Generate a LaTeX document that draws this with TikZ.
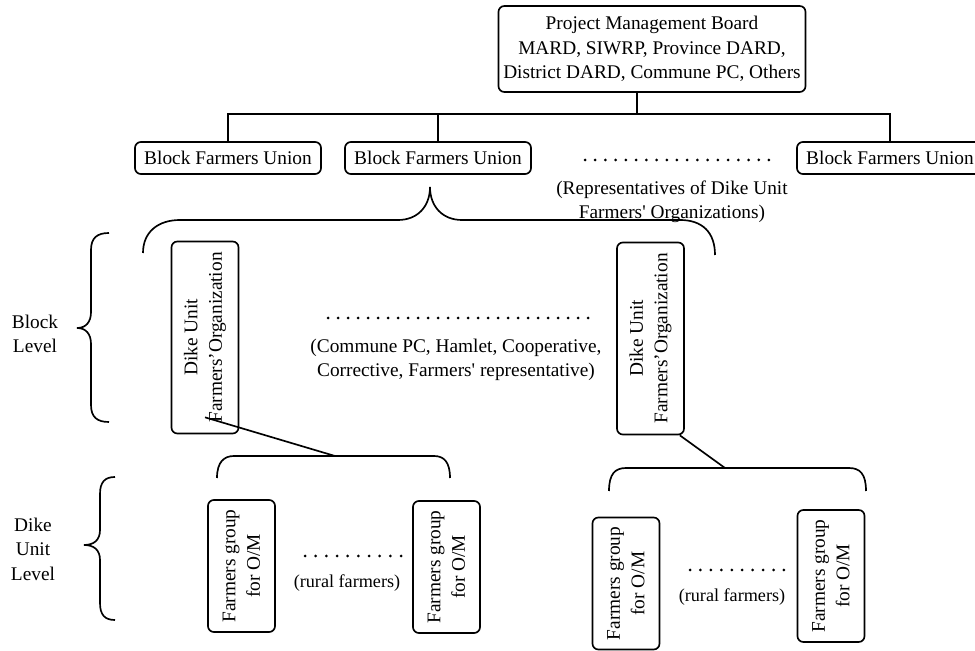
\documentclass[tikz,border=0pt]{standalone}
\usepackage{fontspec}
\setmainfont{Liberation Serif}
\usetikzlibrary{calc}

\begin{document}
\begin{tikzpicture}[x=0.6pt,y=-0.6pt,line width=1pt,
		font=\fontsize{11.6}{14.7}\selectfont,
		unitbox/.style={draw,rounded corners=3.5pt,align=center,inner sep=2pt},
		unionbox/.style={unitbox,minimum width=111.6pt,minimum height=19.2pt},
		orgbox/.style={unitbox,rotate=90,minimum width=115.2pt,minimum height=40.2pt},
		groupbox/.style={unitbox,rotate=90,minimum width=79.2pt,minimum height=40.2pt},
		small/.style={font=\fontsize{10.9}{13}\selectfont}]
		\useasboundingbox (0,0) rectangle (975,651);
%		\draw [color=gray!50] [step=50] (0,0) grid (975,651);
		\node [unitbox,minimum width=184.2pt,minimum height=51.6pt] (pmb) at (652,49) {Project Management Board\\MARD, SIWRP, Province DARD,\\District DARD, Commune PC, Others};
		\node [unionbox] (bfu1) at (228,158) {Block Farmers Union};
		\node [unionbox] (bfu2) at (438,158) {Block Farmers Union};
		\node [unionbox] (bfu4) at (890,158) {Block Farmers Union};
		\coordinate (bus) at (637,114);
		\draw (pmb.south -| bus) -- (bus);
		\draw (bfu1.north) -- (bfu1.north |- bus) -- (bfu4.north |- bus) -- (bfu4.north);
		\draw (bfu2.north) -- (bfu2.north |- bus);
		\foreach \i in {0,...,18} \fill (585+10.22*\i,160) circle [radius=0.9pt];
		\node [align=center] (reps) at (672,202) {(Representatives of Dike Unit\\Farmers\textquotesingle{} Organizations)};
		% brace under the second union
		\draw (143,253) .. controls (143,232) and (158,220) .. (180,220) -- (398,220) .. controls (418,220) and (430,206) .. (430,187) .. controls (430,206) and (442,220) .. (462,220) -- (680,220) .. controls (702,220) and (715,232) .. (715,255);
		\node [orgbox] (dufo1) at (205,337.5) {Dike Unit\\Farmers’Organization};
		\node [orgbox] (dufo2) at (650.5,338.5) {Dike Unit\\Farmers’Organization};
		\foreach \i in {0,...,26} \fill (328+10*\i,318) circle [radius=0.9pt];
		\node [align=center] (members) at (456,360) {(Commune PC, Hamlet, Cooperative,\\Corrective, Farmers\textquotesingle{} representative)};
		% levels
		\node [align=center] (blocklevel) at (35,334) {Block\\Level};
		\draw (109,233) .. controls (97,233) and (91,238) .. (91,250) -- (91,312) .. controls (91,322) and (86,328) .. (77,328) .. controls (86,328) and (91,334) .. (91,344) -- (91,405) .. controls (91,417) and (97,422) .. (109,422);
		\node [align=center] (dikelevel) at (33,549) {Dike\\Unit\\Level};
		\draw (115,477) .. controls (105,477) and (100,482) .. (100,494) -- (100,530) .. controls (100,540) and (94,545) .. (84,545) .. controls (94,545) and (100,550) .. (100,560) -- (100,603) .. controls (100,615) and (105,620) .. (115,620);
		% dike unit groups
		\coordinate (lowtip1) at (335,456);
		\coordinate (lowtip2) at (725,468);
		\draw ($(dufo1.west)+(0,-17)$) -- (lowtip1);
		\draw ($(dufo2.south west)+(-5,0)$) -- (lowtip2);
		\draw (217,478) .. controls (217,462) and (224,456) .. (234,456) -- (434,456) .. controls (444,456) and (450,462) .. (450,478);
		\draw (609,491) .. controls (609,474) and (615,468) .. (626,468) -- (849,468) .. controls (860,468) and (866,474) .. (866,491);
		\node [groupbox] (fg1) at (241.5,566) {Farmers group\\for O/M};
		\node [groupbox] (fg2) at (446.5,567) {Farmers group\\for O/M};
		\node [groupbox] (fg3) at (626,583.5) {Farmers group\\for O/M};
		\node [groupbox] (fg4) at (831,576) {Farmers group\\for O/M};
		\foreach \i in {0,...,9} \fill (305+10.67*\i,556) circle [radius=0.9pt];
		\node [small] (rural1) at (347,583) {(rural farmers)};
		\foreach \i in {0,...,9} \fill (690+10.44*\i,570) circle [radius=0.9pt];
		\node [small] (rural2) at (732,597) {(rural farmers)};
	\end{tikzpicture}
\end{document}
